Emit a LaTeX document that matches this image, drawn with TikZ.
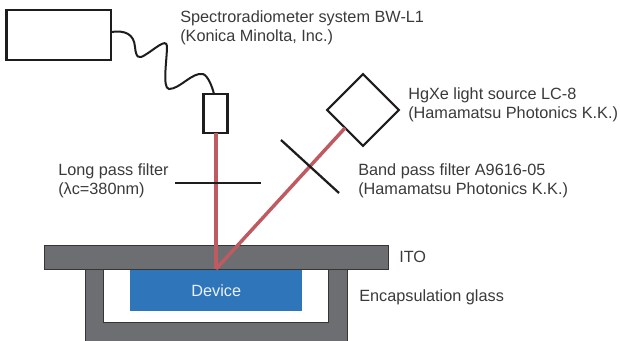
\documentclass[tikz,border=0pt]{standalone}
\usepackage{fontspec}
\setmainfont{Liberation Sans}
\definecolor{lbl}{HTML}{3A3A3C}
\definecolor{beam}{HTML}{BE5A60}
\definecolor{glass}{HTML}{6D6E71}
\definecolor{devblue}{HTML}{2E75B9}
\definecolor{ink}{HTML}{1E1C1D}
\tikzset{
  lab/.style={anchor=west,inner sep=0pt,align=left,text=lbl,font=\fontsize{12.2pt}{14.3pt}\selectfont},
  instr/.style={draw=ink,line width=1.6pt,fill=white,inner sep=0pt,outer sep=0pt},
  filt/.style={draw=ink,line width=1.7pt},
  ray/.style={draw=beam,line width=2.6pt},
  solid glass/.style={fill=glass,draw=ink!70!glass,line width=0.7pt,outer sep=0pt}
}
\begin{document}
\begin{tikzpicture}[x=0.75pt,y=-0.75pt]
\useasboundingbox (0,0) rectangle (620,340);
\path[clip] (0,0) rectangle (620,340);
% encapsulation glass
\filldraw[solid glass] (85,269) -- (347,269) -- (347,345) -- (85,345) -- cycle;
\filldraw[draw=ink!70!glass,line width=0.7pt,fill=white] (103.5,269) -- (328,269) -- (328,322) -- (103.5,322) -- cycle;
% device
\node[fill=devblue,minimum width=129pt,minimum height=30.75pt,inner sep=0pt,anchor=north west,text=white!90!devblue,font=\fontsize{12.2pt}{14pt}\selectfont] (device) at (130,270) {Device};
% ITO
\node[solid glass,minimum width=258pt,minimum height=18pt,inner sep=0pt,anchor=north west] (ito) at (44,245) {};
\coordinate (spot) at (216,269);
% instruments
\node[instr,minimum width=78.5pt,minimum height=37.5pt,anchor=north west] (spectro) at (6.5,10) {};
\node[instr,minimum width=18pt,minimum height=29pt,anchor=north west] (probe) at (203.5,94) {};
\node[instr,minimum width=38pt,minimum height=38pt,rotate=45,anchor=center] (lamp) at (363,110) {};
% filters
\coordinate (lpL) at (175,183);
\coordinate (lpR) at (261,183);
\coordinate (bpL) at (281,140);
\coordinate (bpR) at (339,193);
% rays
\draw[ray] (probe.south -| spot) -- (spot);
\draw[ray] (lamp.west) -- (spot);
\draw[filt] (lpL) -- (lpR);
\draw[filt] (bpL) -- (bpR);
% cable
\draw[ink,line width=1.5pt] (spectro.east |- 0,32) .. controls (125,30) and (134,34) .. (135,47)
  .. controls (136,58) and (139,59) .. (145,55)
  .. controls (155,49) and (166,38) .. (167,46)
  .. controls (167,60) and (162,88) .. (169,89)
  .. controls (180,89) and (192,72) .. (203,74)
  .. controls (208,76) and (212,86) .. (214,94);
% labels
\node[lab] (t1) at (180,27.5) {Spectroradiometer system BW-L1\\(Konica Minolta, Inc.)};
\node[lab] (t2) at (408,105) {HgXe light source LC-8\\(Hamamatsu Photonics K.K.)};
\node[lab] (t3) at (358,181) {Band pass filter A9616-05\\(Hamamatsu Photonics K.K.)};
\node[lab] (t4) at (58,181) {Long pass filter\\(λc=380nm)};
\node[lab] (t5) at (399,257) {ITO};
\node[lab] (t6) at (359,297) {Encapsulation glass};
\end{tikzpicture}
\end{document}
